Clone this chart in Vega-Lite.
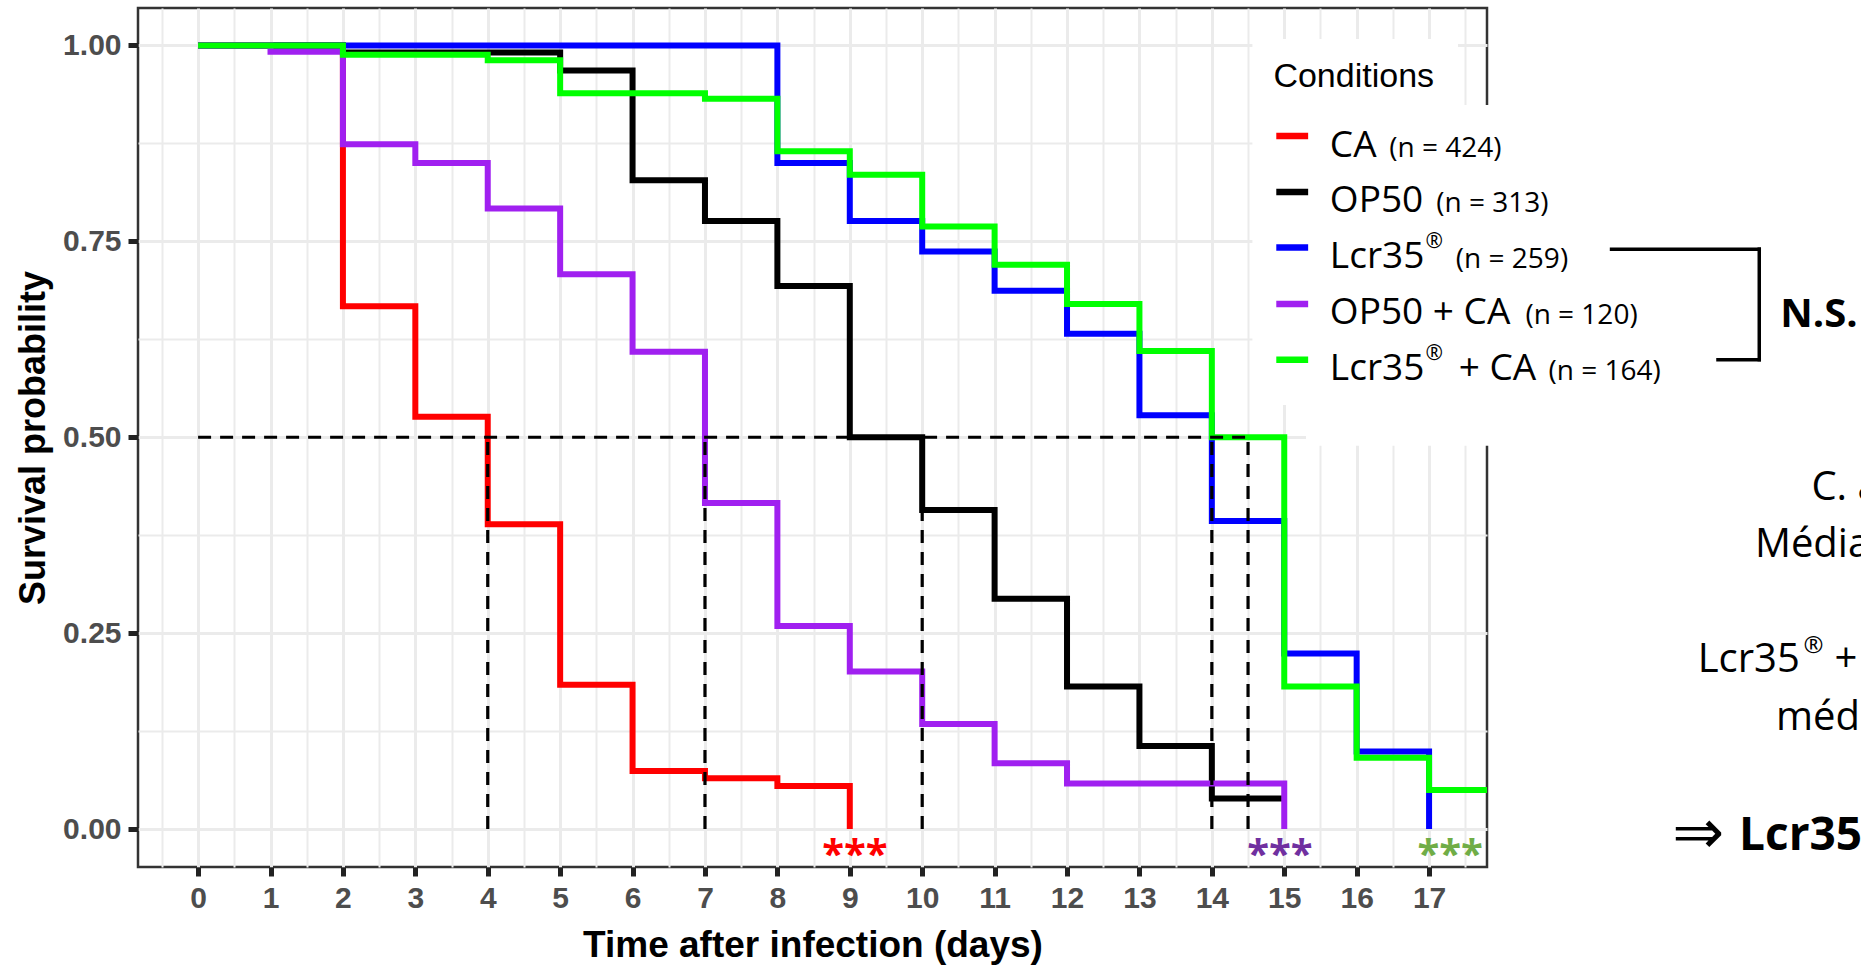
{
  "$schema": "https://vega.github.io/schema/vega-lite/v6.json",
  "width": 1349,
  "height": 859,
  "autosize": {"type": "none"},
  "padding": {"left": 138, "top": 8, "right": 374, "bottom": 98},
  "background": "white",
  "usermeta": {"embedOptions": {"actions": false}},
  "config": {"view": {"stroke": "#333333", "strokeWidth": 2.5}},
  "datasets": {
    "survival": [
      {"condition": "CA", "day": 0, "prob": 1},
      {"condition": "CA", "day": 2, "prob": 0.667},
      {"condition": "CA", "day": 3, "prob": 0.526},
      {"condition": "CA", "day": 4, "prob": 0.389},
      {"condition": "CA", "day": 5, "prob": 0.184},
      {"condition": "CA", "day": 6, "prob": 0.074},
      {"condition": "CA", "day": 7, "prob": 0.065},
      {"condition": "CA", "day": 8, "prob": 0.055},
      {"condition": "CA", "day": 9, "prob": 0},
      {"condition": "OP50", "day": 0, "prob": 1},
      {"condition": "OP50", "day": 2, "prob": 0.991},
      {"condition": "OP50", "day": 5, "prob": 0.968},
      {"condition": "OP50", "day": 6, "prob": 0.828},
      {"condition": "OP50", "day": 7, "prob": 0.776},
      {"condition": "OP50", "day": 8, "prob": 0.693},
      {"condition": "OP50", "day": 9, "prob": 0.5},
      {"condition": "OP50", "day": 10, "prob": 0.407},
      {"condition": "OP50", "day": 11, "prob": 0.294},
      {"condition": "OP50", "day": 12, "prob": 0.182},
      {"condition": "OP50", "day": 13, "prob": 0.106},
      {"condition": "OP50", "day": 14, "prob": 0.039},
      {"condition": "OP50", "day": 15, "prob": 0.039},
      {"condition": "Lcr35®", "day": 0, "prob": 1},
      {"condition": "Lcr35®", "day": 8, "prob": 0.85},
      {"condition": "Lcr35®", "day": 9, "prob": 0.776},
      {"condition": "Lcr35®", "day": 10, "prob": 0.737},
      {"condition": "Lcr35®", "day": 11, "prob": 0.687},
      {"condition": "Lcr35®", "day": 12, "prob": 0.632},
      {"condition": "Lcr35®", "day": 13, "prob": 0.528},
      {"condition": "Lcr35®", "day": 14, "prob": 0.393},
      {"condition": "Lcr35®", "day": 15, "prob": 0.224},
      {"condition": "Lcr35®", "day": 16, "prob": 0.099},
      {"condition": "Lcr35®", "day": 17, "prob": 0},
      {"condition": "OP50 + CA", "day": 0, "prob": 1},
      {"condition": "OP50 + CA", "day": 1, "prob": 0.992},
      {"condition": "OP50 + CA", "day": 2, "prob": 0.874},
      {"condition": "OP50 + CA", "day": 3, "prob": 0.85},
      {"condition": "OP50 + CA", "day": 4, "prob": 0.792},
      {"condition": "OP50 + CA", "day": 5, "prob": 0.708},
      {"condition": "OP50 + CA", "day": 6, "prob": 0.609},
      {"condition": "OP50 + CA", "day": 7, "prob": 0.416},
      {"condition": "OP50 + CA", "day": 8, "prob": 0.259},
      {"condition": "OP50 + CA", "day": 9, "prob": 0.201},
      {"condition": "OP50 + CA", "day": 10, "prob": 0.134},
      {"condition": "OP50 + CA", "day": 11, "prob": 0.084},
      {"condition": "OP50 + CA", "day": 12, "prob": 0.058},
      {"condition": "OP50 + CA", "day": 15, "prob": 0},
      {"condition": "Lcr35® + CA", "day": 0, "prob": 1},
      {"condition": "Lcr35® + CA", "day": 2, "prob": 0.988},
      {"condition": "Lcr35® + CA", "day": 4, "prob": 0.981},
      {"condition": "Lcr35® + CA", "day": 5, "prob": 0.939},
      {"condition": "Lcr35® + CA", "day": 7, "prob": 0.932},
      {"condition": "Lcr35® + CA", "day": 8, "prob": 0.865},
      {"condition": "Lcr35® + CA", "day": 9, "prob": 0.835},
      {"condition": "Lcr35® + CA", "day": 10, "prob": 0.769},
      {"condition": "Lcr35® + CA", "day": 11, "prob": 0.72},
      {"condition": "Lcr35® + CA", "day": 12, "prob": 0.67},
      {"condition": "Lcr35® + CA", "day": 13, "prob": 0.61},
      {"condition": "Lcr35® + CA", "day": 14, "prob": 0.5},
      {"condition": "Lcr35® + CA", "day": 15, "prob": 0.182},
      {"condition": "Lcr35® + CA", "day": 16, "prob": 0.091},
      {"condition": "Lcr35® + CA", "day": 17, "prob": 0.05},
      {"condition": "Lcr35® + CA", "day": 18, "prob": 0.05}
    ],
    "medians": [
      {"day": 0, "day_end": 14.5, "prob": 0.5, "prob_end": 0.5},
      {"day": 4, "day_end": 4, "prob": 0, "prob_end": 0.5},
      {"day": 7, "day_end": 7, "prob": 0, "prob_end": 0.5},
      {"day": 10, "day_end": 10, "prob": 0, "prob_end": 0.5},
      {"day": 14, "day_end": 14, "prob": 0, "prob_end": 0.5},
      {"day": 14.5, "day_end": 14.5, "prob": 0, "prob_end": 0.5}
    ],
    "boxes": [
      {"day": 14.56, "day_end": 17.4, "prob": 0.924, "prob_end": 1.008},
      {"day": 14.56, "day_end": 30, "prob": 0.541, "prob_end": 0.924},
      {"day": 15.3, "day_end": 30, "prob": 0.489, "prob_end": 0.541}
    ],
    "keys": [
      {"condition": "CA", "day": 14.89, "day_end": 15.33, "prob": 0.8845},
      {"condition": "OP50", "day": 14.89, "day_end": 15.33, "prob": 0.813},
      {"condition": "Lcr35®", "day": 14.89, "day_end": 15.33, "prob": 0.742},
      {"condition": "OP50 + CA", "day": 14.89, "day_end": 15.33, "prob": 0.67},
      {"condition": "Lcr35® + CA", "day": 14.89, "day_end": 15.33, "prob": 0.599}
    ],
    "bracket": [
      {"day": 19.52, "day_end": 21.56, "prob": 0.74, "prob_end": 0.74},
      {"day": 21.56, "day_end": 21.56, "prob": 0.74, "prob_end": 0.599},
      {"day": 20.99, "day_end": 21.56, "prob": 0.599, "prob_end": 0.599}
    ],
    "texts": [
      {"text": "Conditions", "day": 14.85, "prob": 0.947, "part": "title"},
      {"text": "CA", "day": 15.63, "prob": 0.858, "part": "label"},
      {"text": "OP50", "day": 15.63, "prob": 0.787, "part": "label"},
      {"text": "Lcr35", "day": 15.63, "prob": 0.716, "part": "label"},
      {"text": "OP50 + CA", "day": 15.63, "prob": 0.644, "part": "label"},
      {"text": "Lcr35", "day": 15.63, "prob": 0.573, "part": "label"},
      {"text": "+ CA", "day": 17.41, "prob": 0.573, "part": "label"},
      {"text": "®", "day": 16.95, "prob": 0.741, "part": "sup"},
      {"text": "®", "day": 16.95, "prob": 0.598, "part": "sup"},
      {"text": "(n = 424)", "day": 16.45, "prob": 0.858, "part": "count"},
      {"text": "(n = 313)", "day": 17.1, "prob": 0.787, "part": "count"},
      {"text": "(n = 259)", "day": 17.37, "prob": 0.716, "part": "count"},
      {"text": "(n = 120)", "day": 18.33, "prob": 0.644, "part": "count"},
      {"text": "(n = 164)", "day": 18.65, "prob": 0.573, "part": "count"},
      {"text": "N.S.", "day": 21.85, "prob": 0.641, "part": "ns"},
      {"text": "C. albicans", "day": 22.28, "prob": 0.42, "part": "note"},
      {"text": "Médiane de survie", "day": 21.5, "prob": 0.347, "part": "note"},
      {"text": "Lcr35", "day": 20.71, "prob": 0.2005, "part": "note"},
      {"text": "®", "day": 22.17, "prob": 0.2247, "part": "note-sup"},
      {"text": "+ CA", "day": 22.6, "prob": 0.2005, "part": "note"},
      {"text": "médiane", "day": 21.79, "prob": 0.1265, "part": "note"},
      {"text": "⇒", "day": 20.36, "prob": -0.03, "part": "arrow"},
      {"text": "Lcr35®", "day": 21.28, "prob": -0.0265, "part": "note-bold"},
      {"text": "***", "day": 9.07, "prob": -0.0497, "part": "stars-CA"},
      {"text": "***", "day": 14.94, "prob": -0.0497, "part": "stars-OP50-CA"},
      {"text": "***", "day": 17.29, "prob": -0.0497, "part": "stars-Lcr35-CA"}
    ]
  },
  "encoding": {
    "x": {
      "field": "day", "type": "quantitative",
      "scale": {"domain": [-0.83, 17.8], "nice": false, "zero": false},
      "axis": {
        "title": "Time after infection (days)",
        "values": [-0.5, 0, 0.5, 1, 1.5, 2, 2.5, 3, 3.5, 4, 4.5, 5, 5.5, 6, 6.5, 7, 7.5, 8, 8.5, 9, 9.5, 10, 10.5, 11, 11.5, 12, 12.5, 13, 13.5, 14, 14.5, 15, 15.5, 16, 16.5, 17, 17.5],
        "labelExpr": "datum.value % 1 === 0 ? format(datum.value, 'd') : ''",
        "grid": true,
        "gridColor": "#EBEBEB",
        "gridWidth": {"condition": {"test": "datum.value % 1 === 0", "value": 3}, "value": 2},
        "domain": false,
        "tickColor": "#222222",
        "tickWidth": 5,
        "tickSize": 9,
        "tickOpacity": {"condition": {"test": "datum.value % 1 === 0", "value": 1}, "value": 0},
        "labelFont": "Liberation Sans",
        "labelFontWeight": "bold",
        "labelFontSize": 30,
        "labelColor": "#4D4D4D",
        "labelPadding": 7,
        "labelFlush": false,
        "labelOverlap": false,
        "titleFont": "Liberation Sans",
        "titleFontWeight": "bold",
        "titleFontSize": 37,
        "titleColor": "#000000",
        "titleBaseline": "alphabetic",
        "titleY": 89
      }
    },
    "y": {
      "field": "prob", "type": "quantitative",
      "scale": {"domain": [-0.0484, 1.0477], "nice": false, "zero": false},
      "axis": {
        "title": "Survival probability",
        "values": [0, 0.125, 0.25, 0.375, 0.5, 0.625, 0.75, 0.875, 1],
        "labelExpr": "(datum.value * 4) % 1 === 0 ? format(datum.value, '.2f') : ''",
        "grid": true,
        "gridColor": "#EBEBEB",
        "gridWidth": {"condition": {"test": "(datum.value * 4) % 1 === 0", "value": 3}, "value": 2},
        "domain": false,
        "tickColor": "#222222",
        "tickWidth": 5,
        "tickSize": 10,
        "tickOpacity": {"condition": {"test": "(datum.value * 4) % 1 === 0", "value": 1}, "value": 0},
        "labelFont": "Liberation Sans",
        "labelFontWeight": "bold",
        "labelFontSize": 30,
        "labelColor": "#4D4D4D",
        "labelPadding": 7,
        "labelOverlap": false,
        "titleFont": "Liberation Sans",
        "titleFontWeight": "bold",
        "titleFontSize": 36,
        "titleColor": "#000000",
        "titleBaseline": "bottom",
        "titleAngle": 270,
        "titleX": -86
      }
    }
  },
  "layer": [
    {
      "data": {"name": "survival"},
      "mark": {"type": "line", "interpolate": "step-after", "strokeWidth": 6, "clip": true, "strokeCap": "butt", "strokeJoin": "miter"},
      "encoding": {
        "color": {
          "field": "condition", "type": "nominal",
          "scale": {"domain": ["CA", "OP50", "Lcr35®", "OP50 + CA", "Lcr35® + CA"], "range": ["#FF0000", "#000000", "#0000FF", "#A020F0", "#00FF00"]},
          "legend": null
        }
      }
    },
    {
      "data": {"name": "medians"},
      "mark": {"type": "rule", "color": "#000000", "strokeWidth": 3.2, "strokeDash": [13, 9], "strokeCap": "butt"},
      "encoding": {"x2": {"field": "day_end"}, "y2": {"field": "prob_end"}}
    },
    {
      "data": {"name": "boxes"},
      "mark": {"type": "rect", "color": "#FFFFFF"},
      "encoding": {"x2": {"field": "day_end"}, "y2": {"field": "prob_end"}}
    },
    {
      "data": {"name": "keys"},
      "mark": {"type": "rule", "strokeWidth": 6.5, "strokeCap": "butt"},
      "encoding": {
        "x2": {"field": "day_end"},
        "color": {"field": "condition", "type": "nominal", "legend": null}
      }
    },
    {
      "data": {"name": "bracket"},
      "mark": {"type": "rule", "color": "#000000", "strokeWidth": 3.5, "strokeCap": "square"},
      "encoding": {"x2": {"field": "day_end"}, "y2": {"field": "prob_end"}}
    },
    {
      "data": {"name": "texts"},
      "transform": [{"filter": "datum.part === 'title'"}],
      "mark": {"type": "text", "font": "Liberation Sans", "fontSize": 34, "align": "left", "baseline": "alphabetic", "color": "#000000"},
      "encoding": {"text": {"field": "text"}}
    },
    {
      "data": {"name": "texts"},
      "transform": [{"filter": "datum.part === 'label'"}],
      "mark": {"type": "text", "font": "Open Sans", "fontSize": 37, "align": "left", "baseline": "alphabetic", "color": "#000000"},
      "encoding": {"text": {"field": "text"}}
    },
    {
      "data": {"name": "texts"},
      "transform": [{"filter": "datum.part === 'count'"}],
      "mark": {"type": "text", "font": "Open Sans", "fontSize": 28, "align": "left", "baseline": "alphabetic", "color": "#000000"},
      "encoding": {"text": {"field": "text"}}
    },
    {
      "data": {"name": "texts"},
      "transform": [{"filter": "datum.part === 'sup'"}],
      "mark": {"type": "text", "font": "Open Sans", "fontSize": 21, "align": "left", "baseline": "alphabetic", "color": "#000000"},
      "encoding": {"text": {"field": "text"}}
    },
    {
      "data": {"name": "texts"},
      "transform": [{"filter": "datum.part === 'ns'"}],
      "mark": {"type": "text", "font": "Open Sans", "fontSize": 40, "fontWeight": "bold", "align": "left", "baseline": "alphabetic", "color": "#000000"},
      "encoding": {"text": {"field": "text"}}
    },
    {
      "data": {"name": "texts"},
      "transform": [{"filter": "datum.part === 'note'"}],
      "mark": {"type": "text", "font": "Open Sans", "fontSize": 40, "align": "left", "baseline": "alphabetic", "color": "#000000"},
      "encoding": {"text": {"field": "text"}}
    },
    {
      "data": {"name": "texts"},
      "transform": [{"filter": "datum.part === 'note-sup'"}],
      "mark": {"type": "text", "font": "Open Sans", "fontSize": 24, "align": "left", "baseline": "alphabetic", "color": "#000000"},
      "encoding": {"text": {"field": "text"}}
    },
    {
      "data": {"name": "texts"},
      "transform": [{"filter": "datum.part === 'note-bold'"}],
      "mark": {"type": "text", "font": "Open Sans", "fontSize": 46, "fontWeight": "bold", "align": "left", "baseline": "alphabetic", "color": "#000000"},
      "encoding": {"text": {"field": "text"}}
    },
    {
      "data": {"name": "texts"},
      "transform": [{"filter": "datum.part === 'arrow'"}],
      "mark": {"type": "text", "font": "DejaVu Sans", "fontSize": 62, "align": "left", "baseline": "alphabetic", "color": "#000000"},
      "encoding": {"text": {"field": "text"}}
    },
    {
      "data": {"name": "texts"},
      "transform": [{"filter": "datum.part === 'stars-CA'"}],
      "mark": {"type": "text", "font": "Open Sans", "fontSize": 40, "fontWeight": "bold", "align": "center", "baseline": "alphabetic", "color": "#FF0000"},
      "encoding": {"text": {"field": "text"}}
    },
    {
      "data": {"name": "texts"},
      "transform": [{"filter": "datum.part === 'stars-OP50-CA'"}],
      "mark": {"type": "text", "font": "Open Sans", "fontSize": 40, "fontWeight": "bold", "align": "center", "baseline": "alphabetic", "color": "#7030A0"},
      "encoding": {"text": {"field": "text"}}
    },
    {
      "data": {"name": "texts"},
      "transform": [{"filter": "datum.part === 'stars-Lcr35-CA'"}],
      "mark": {"type": "text", "font": "Open Sans", "fontSize": 40, "fontWeight": "bold", "align": "center", "baseline": "alphabetic", "color": "#70AD47"},
      "encoding": {"text": {"field": "text"}}
    }
  ]
}
